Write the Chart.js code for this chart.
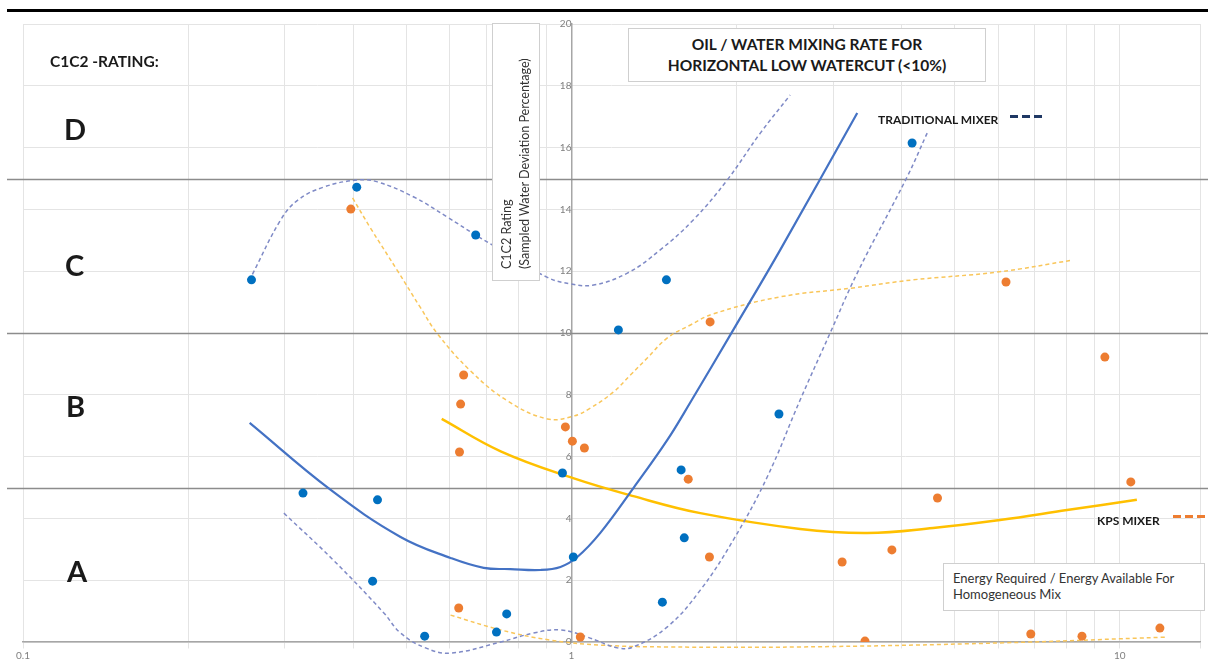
<!DOCTYPE html>
<html lang="en">
<head>
  <meta charset="UTF-8">
  <title>Oil / Water Mixing Rate</title>
  <script src="https://cdn.jsdelivr.net/npm/chart.js"></script>
  <style>
    body { margin: 0; background: #fff; font-family: Lato, "Open Sans", sans-serif; }
    .wrap { position: relative; width: 1208px; height: 662px; overflow: hidden; }
    canvas { position: absolute; left: 0; top: 0; }
    .topline { position: absolute; left: 7px; top: 9px; width: 1201px; height: 3px; background: #000; }
    .lbl { position: absolute; color: #1a1a1a; font-weight: bold; white-space: nowrap; }
    .rating { font-size: 15.5px; }
    .band { font-size: 29px; }
    .box { position: absolute; background: #fff; border: 1px solid #cfcfcf; box-sizing: border-box; color: #333; }
    .title { left: 628px; top: 28px; width: 358px; height: 54px; text-align: center;
             font-weight: bold; font-size: 15.5px; line-height: 21px; padding-top: 5px; color: #1a1a1a; }
    .ytitle { left: 492px; top: 23px; width: 48px; height: 258px; font-size: 12.5px; line-height: 18px;
              writing-mode: vertical-rl; transform: rotate(180deg); padding: 11px 5px 0 1px; }
    .energy { left: 943px; top: 563px; width: 262px; height: 48px; font-size: 13px; line-height: 16px;
              padding: 6px 0 0 9px; }
    .mixer { font-size: 12px; }
    .dash { position: absolute; height: 3px; width: 33px; }
  </style>
</head>
<body>
<div class="wrap">
  <canvas id="mixChart" width="1208" height="662"></canvas>
  <div class="topline"></div>
  <div class="lbl rating" style="left:50px; top:52px;">C1C2 -RATING:</div>
  <div class="lbl band" style="left:64px; top:111px;">D</div>
  <div class="lbl band" style="left:65px; top:247px;">C</div>
  <div class="lbl band" style="left:66px; top:388px;">B</div>
  <div class="lbl band" style="left:67px; top:553px;">A</div>
  <div class="box ytitle">C1C2 Rating<br>(Sampled Water Deviation Percentage)</div>
  <div class="box title">OIL / WATER MIXING RATE FOR<br>HORIZONTAL LOW WATERCUT (&lt;10%)</div>
  <div class="lbl mixer" style="left:878px; top:112px;">TRADITIONAL MIXER</div>
  <div class="dash" style="left:1010px; top:115px; background:repeating-linear-gradient(90deg,#1f3864 0 8px,transparent 8px 12px);"></div>
  <div class="lbl mixer" style="left:1097px; top:513px;">KPS MIXER</div>
  <div class="dash" style="left:1173px; top:515px; background:repeating-linear-gradient(90deg,#ED7D31 0 8px,transparent 8px 12px);"></div>
  <div class="box energy">Energy Required / Energy Available For<br>Homogeneous Mix</div>
</div>

<script>
  // measured samples (energy ratio, C1C2 rating)
  const tradX = [0.261, 0.406, 0.669, 0.324, 0.443, 0.434, 0.540, 0.730, 0.762, 0.963, 1.008, 1.218, 1.49, 1.465, 1.585, 1.606, 2.39, 4.18];
  const tradY = [11.72, 14.72, 13.17, 4.82, 4.60, 1.97, 0.19, 0.32, 0.91, 5.47, 2.75, 10.1, 11.72, 1.29, 5.57, 3.37, 7.38, 16.15];
  const kpsX = [0.396, 0.636, 0.628, 0.625, 0.623, 0.975, 1.004, 1.056, 1.038, 1.79, 1.633, 1.785, 3.116, 3.43, 3.84, 4.65, 6.20, 6.88, 8.53, 9.39, 10.47, 11.83];
  const kpsY = [14.01, 8.64, 7.70, 6.15, 1.10, 6.96, 6.50, 6.28, 0.16, 10.36, 5.27, 2.75, 2.59, 0.03, 2.98, 4.66, 11.65, 0.26, 0.19, 9.22, 5.18, 0.45];

  // trend curves
  const tradTrendX = [0.259, 0.364, 0.488, 0.602, 0.692, 0.774, 0.878, 0.955, 1.025, 1.129, 1.297, 1.496, 1.647, 1.973, 2.403, 3.32];
  const tradTrendY = [7.09, 4.92, 3.40, 2.72, 2.40, 2.36, 2.33, 2.43, 2.75, 3.53, 4.98, 6.54, 7.75, 10.1, 12.69, 17.12];
  const tradUpperX = [0.262, 0.295, 0.317, 0.353, 0.407, 0.443, 0.516, 0.594, 0.669, 0.743, 0.904, 0.996, 1.097, 1.265, 1.452, 1.668, 1.923, 2.21, 2.505];
  const tradUpperY = [11.9, 13.66, 14.30, 14.72, 14.95, 14.89, 14.40, 13.75, 13.17, 12.69, 11.80, 11.59, 11.55, 11.94, 12.69, 13.66, 14.95, 16.47, 17.70];
  const tradLowerX = [0.299, 0.368, 0.455, 0.488, 0.542, 0.602, 0.743, 0.853, 0.955, 1.069, 1.213, 1.297, 1.496, 1.718, 1.973, 2.275, 2.612, 2.963, 3.32, 4.093, 4.453];
  const tradLowerY = [4.17, 2.65, 0.94, 0.29, -0.19, -0.36, 0.0, 0.29, 0.39, 0.16, -0.19, -0.16, 0.49, 1.68, 3.30, 5.34, 7.83, 10.0, 11.94, 15.05, 16.47];
  const kpsTrendX = [0.580, 0.743, 1.004, 1.297, 1.718, 2.612, 3.46, 4.565, 6.045, 8.01, 10.74];
  const kpsTrendY = [7.22, 6.17, 5.31, 4.72, 4.17, 3.66, 3.53, 3.69, 3.95, 4.27, 4.60];
  const kpsUpperX = [0.399, 0.430, 0.482, 0.531, 0.570, 0.655, 0.765, 0.904, 1.008, 1.083, 1.193, 1.281, 1.375, 1.496, 1.648, 1.814, 2.403, 3.264, 4.198, 5.97, 8.21];
  const kpsUpperY = [14.37, 13.40, 12.01, 10.81, 9.97, 8.77, 7.80, 7.22, 7.31, 7.57, 8.09, 8.64, 9.19, 9.84, 10.26, 10.62, 11.17, 11.46, 11.72, 11.97, 12.36];
  const kpsLowerX = [0.602, 0.743, 0.916, 1.129, 1.496, 2.612, 6.045, 12.18];
  const kpsLowerY = [0.87, 0.39, 0.06, -0.10, -0.16, -0.16, -0.03, 0.16];

  const bandLevels = [5, 10, 15];
  const xLabelValues = [0.1, 1, 10];

  const pts = (xs, ys) => xs.map((x, i) => ({ x: x, y: ys[i] }));

  function curve(label, xs, ys, color, width, dash) {
    return {
      label: label,
      data: pts(xs, ys),
      showLine: true,
      borderColor: color,
      borderWidth: width,
      borderDash: dash,
      pointRadius: 0,
      tension: 0.4,
      clip: false,
      order: 2
    };
  }

  const bandLines = {
    id: 'bandLines',
    beforeDatasetsDraw(chart) {
      const ctx = chart.ctx;
      const y = chart.scales.y;
      ctx.save();
      ctx.strokeStyle = '#8c8c8c';
      ctx.lineWidth = 1.5;
      bandLevels.forEach(v => {
        const py = Math.round(y.getPixelForValue(v)) + 0.5;
        ctx.beginPath();
        ctx.moveTo(7, py);
        ctx.lineTo(chart.width, py);
        ctx.stroke();
      });
      ctx.restore();
    }
  };

  Chart.defaults.font.family = 'Lato, "Open Sans", sans-serif';

  new Chart(document.getElementById('mixChart').getContext('2d'), {
    type: 'scatter',
    data: {
      datasets: [
        { label: 'Traditional', data: pts(tradX, tradY), backgroundColor: '#0070C0', borderWidth: 0, pointRadius: 4.5, order: 1 },
        { label: 'KPS', data: pts(kpsX, kpsY), backgroundColor: '#ED7D31', borderWidth: 0, pointRadius: 4.5, order: 1 },
        curve('Traditional trend', tradTrendX, tradTrendY, '#4472C4', 2.2, []),
        curve('Traditional upper', tradUpperX, tradUpperY, '#7f8ac6', 1.5, [4, 3]),
        curve('Traditional lower', tradLowerX, tradLowerY, '#7f8ac6', 1.5, [4, 3]),
        curve('KPS trend', kpsTrendX, kpsTrendY, '#FFC000', 2.5, []),
        curve('KPS upper', kpsUpperX, kpsUpperY, '#F9C65A', 1.5, [4, 3]),
        curve('KPS lower', kpsLowerX, kpsLowerY, '#F9C65A', 1.5, [4, 3])
      ]
    },
    options: {
      responsive: false,
      animation: false,
      devicePixelRatio: 1,
      layout: { padding: { left: 23, right: 8, top: 24, bottom: 20 } },
      plugins: { legend: { display: false }, tooltip: { enabled: false } },
      scales: {
        x: {
          type: 'logarithmic',
          min: 0.1,
          max: 14,
          position: { y: 0 },
          afterBuildTicks: (scale) => {
            scale.ticks = scale.ticks.filter(t => {
              const m = t.value / Math.pow(10, Math.floor(Math.log10(t.value) + 1e-9));
              return Math.abs(m - Math.round(m)) < 1e-6 || t.value === scale.max;
            });
          },
          grid: { color: '#e4e4e4', lineWidth: 1, tickLength: 6 },
          border: { color: '#a6a6a6', width: 1.5 },
          ticks: {
            autoSkip: false,
            maxRotation: 0,
            padding: 2,
            color: '#808080',
            font: { size: 10 },
            callback: (v) => xLabelValues.some(d => Math.abs(d - v) < 1e-9) ? String(v) : ''
          }
        },
        y: {
          min: 0,
          max: 20,
          position: { x: 1 },
          grid: { color: '#e4e4e4', lineWidth: 1, tickLength: 8 },
          border: { color: '#a6a6a6', width: 1.5 },
          ticks: { stepSize: 2, padding: 3, color: '#808080', font: { size: 10 } }
        }
      }
    },
    plugins: [bandLines]
  });
</script>
</body>
</html>
